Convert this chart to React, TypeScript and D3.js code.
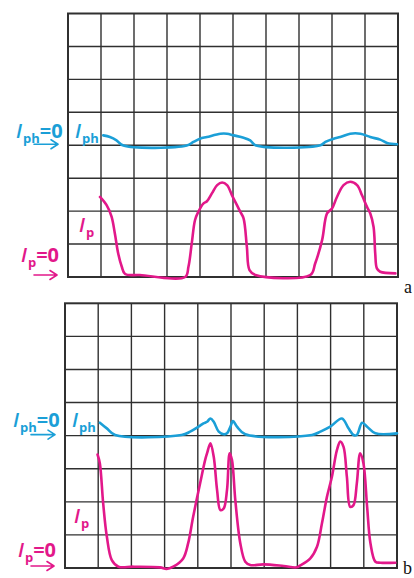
import React from "react";
import * as d3 from "d3";

type Pt = [number, number];

// Grid divisions
const xDivisions = [0, 1, 2, 3, 4, 5, 6, 7, 8, 9, 10];
const yDivisions = [0, 1, 2, 3, 4, 5, 6, 7, 8];

// Panel a: photocurrent (offset by 4 divisions) and plasma current
const topIph: Pt[] = [
  [1.07, 4.3], [1.27, 4.25], [1.47, 4.15], [1.68, 3.99], [3.6, 3.99], [3.8, 4.1],
  [4.0, 4.2], [4.21, 4.25], [4.62, 4.35], [4.82, 4.35], [5.02, 4.3], [5.32, 4.23],
  [5.52, 4.15], [5.68, 4.0], [7.65, 4.0], [7.8, 4.1], [8.05, 4.2], [8.25, 4.25],
  [8.55, 4.35], [8.86, 4.35], [9.16, 4.25], [9.46, 4.17], [9.67, 4.07], [9.97, 4.03],
];
const topIp: Pt[] = [
  [0.97, 2.43], [1.17, 2.18], [1.32, 1.83], [1.42, 1.32], [1.52, 0.72], [1.63, 0.31],
  [1.73, 0.09], [2.18, 0.06], [3.55, 0.0], [3.65, 0.31], [3.75, 1.02], [3.85, 1.73],
  [3.95, 1.98], [4.1, 2.23], [4.21, 2.3], [4.36, 2.54], [4.52, 2.79], [4.67, 2.87],
  [4.82, 2.79], [4.97, 2.48], [5.12, 2.18], [5.22, 1.98], [5.32, 1.78], [5.42, 0.92],
  [5.5, 0.21], [5.68, 0.06], [7.34, 0.06], [7.49, 0.41], [7.7, 1.12], [7.85, 1.93],
  [8.0, 2.08], [8.15, 2.43], [8.35, 2.79], [8.55, 2.89], [8.76, 2.79], [8.91, 2.48],
  [9.06, 2.13], [9.16, 1.93], [9.26, 1.52], [9.31, 0.72], [9.36, 0.26], [9.46, 0.16],
  [9.92, 0.11],
];

// Panel b
const botIph: Pt[] = [
  [1.05, 4.39], [1.26, 4.22], [1.51, 4.02], [3.51, 4.02], [3.77, 4.12], [4.02, 4.27],
  [4.17, 4.37], [4.28, 4.42], [4.38, 4.52], [4.48, 4.42], [4.63, 4.12], [4.78, 4.04],
  [4.88, 4.07], [4.98, 4.27], [5.06, 4.44], [5.18, 4.27], [5.43, 4.04], [7.44, 4.02],
  [7.69, 4.12], [7.99, 4.27], [8.34, 4.52], [8.54, 4.22], [8.69, 4.02], [8.79, 4.02],
  [8.95, 4.39], [9.1, 4.27], [9.35, 4.07], [10.0, 4.07],
];
const botIp: Pt[] = [
  [0.98, 3.43], [1.05, 3.16], [1.15, 1.95], [1.26, 0.95], [1.41, 0.24], [1.61, 0.04],
  [2.06, 0.04], [2.86, 0.02], [3.06, -0.03], [3.26, 0.04], [3.56, 0.29], [3.71, 0.75],
  [3.86, 1.55], [4.07, 2.56], [4.22, 3.26], [4.28, 3.47], [4.38, 3.77], [4.48, 3.36],
  [4.58, 2.36], [4.68, 1.75], [4.78, 1.8], [4.88, 2.36], [4.96, 3.47], [5.03, 3.26],
  [5.13, 2.05], [5.28, 0.75], [5.43, 0.19], [5.58, 0.09], [5.98, 0.11], [6.59, 0.06],
  [6.97, 0.02], [7.09, 0.08], [7.39, 0.29], [7.59, 0.64], [7.74, 1.35], [7.89, 2.15],
  [8.04, 2.76], [8.19, 3.56], [8.29, 3.82], [8.39, 3.66], [8.49, 2.76], [8.59, 1.85],
  [8.69, 1.9], [8.79, 2.56], [8.89, 3.47], [8.99, 3.16], [9.1, 1.85], [9.2, 0.75],
  [9.35, 0.19], [9.5, 0.16], [9.95, 0.16],
];

const panelLetters = ["a", "b"];

const BLUE = "#1b9fd7";
const PINK = "#e2188a";
const GRID = "#303030";
const FONT = "'Open Sans', 'DejaVu Sans', sans-serif";

type PanelProps = {
  x0: number; y0: number; w: number; h: number;
  ph: Pt[]; p: Pt[];
  letter: string; letterX: number; letterY: number;
  phLabelY: number; pLabelY: number; pZeroLabelY: number;
  phInnerY: number; pInnerY: number; pInnerX: number;
};

function Arrow({ x1, x2, y, color }: { x1: number; x2: number; y: number; color: string }) {
  return (
    <path
      d={`M${x1},${y} L${x2},${y} M${x2 - 7},${y - 4.5} L${x2},${y} L${x2 - 7},${y + 4.5}`}
      stroke={color}
      strokeWidth={1.6}
      fill="none"
      strokeLinecap="round"
      strokeLinejoin="round"
    />
  );
}

function Label({ x, y, sub, eq, color }: { x: number; y: number; sub: string; eq?: boolean; color: string }) {
  return (
    <text x={x} y={y} fill={color} fontFamily={FONT}>
      <tspan fontSize={20} fontStyle="italic" fontWeight={600}>I</tspan>
      <tspan fontSize={13} fontWeight={700} dy={5} dx={1}>{sub}</tspan>
      {eq ? <tspan fontSize={20} fontWeight={700} dy={-5} dx={0}>=0</tspan> : null}
    </text>
  );
}

function Panel(props: PanelProps) {
  const { x0, y0, w, h, ph, p } = props;
  const xs = d3.scaleLinear().domain([0, 10]).range([x0, x0 + w]);
  const ys = d3.scaleLinear().domain([0, 8]).range([y0 + h, y0]);
  const line = d3
    .line<Pt>()
    .x((d) => xs(d[0]))
    .y((d) => ys(d[1]))
    .curve(d3.curveCatmullRom.alpha(0.5));
  const zeroPh = ys(4);
  const zeroP = ys(0);
  return (
    <g>
      {xDivisions.slice(1, -1).map((d) => (
        <line key={"v" + d} x1={xs(d)} x2={xs(d)} y1={y0} y2={y0 + h} stroke={GRID} strokeWidth={1.4} />
      ))}
      {yDivisions.slice(1, -1).map((d) => (
        <line key={"h" + d} x1={x0} x2={x0 + w} y1={ys(d)} y2={ys(d)} stroke={GRID} strokeWidth={1.4} />
      ))}
      <rect x={x0} y={y0} width={w} height={h} fill="none" stroke={GRID} strokeWidth={2} />
      <path d={line(ph) || ""} fill="none" stroke={BLUE} strokeWidth={2.6} strokeLinejoin="round" strokeLinecap="round" />
      <path d={line(p) || ""} fill="none" stroke={PINK} strokeWidth={2.6} strokeLinejoin="round" strokeLinecap="round" />

      {/* left labels */}
      <Label x={x0 - 52} y={props.phLabelY} sub="ph" eq color={BLUE} />
      <Arrow x1={x0 - 34} x2={x0 - 10} y={zeroPh - 1} color={BLUE} />
      <Label x={x0 - 47} y={props.pZeroLabelY} sub="p" eq color={PINK} />
      <Arrow x1={x0 - 34} x2={x0 - 11} y={zeroP - 2} color={PINK} />

      {/* inner labels */}
      <Label x={x0 + 7} y={props.phInnerY} sub="ph" color={BLUE} />
      <Label x={props.pInnerX} y={props.pInnerY} sub="p" color={PINK} />

      <text x={props.letterX} y={props.letterY} fontFamily="'Liberation Serif', 'DejaVu Serif', serif" fontSize={18} fill="#111">
        {props.letter}
      </text>
    </g>
  );
}

export default function App() {
  return (
    <svg width={414} height={578} style={{ position: "absolute", left: 0, top: 0, background: "#fff" }}>
      <rect x={0} y={0} width={414} height={578} fill="#fff" />
      <Panel
        x0={68} y0={13.5} w={330} h={263.5}
        ph={topIph} p={topIp}
        letter={panelLetters[0]} letterX={404} letterY={293}
        phLabelY={138} pZeroLabelY={262}
        phInnerY={138} pInnerY={232} pInnerX={79}
      />
      <Panel
        x0={65} y0={303.3} w={332} h={264.7}
        ph={botIph} p={botIp}
        letter={panelLetters[1]} letterX={403} letterY={574}
        phLabelY={427} pZeroLabelY={557}
        phInnerY={427} pInnerY={523} pInnerX={74}
      />
    </svg>
  );
}
